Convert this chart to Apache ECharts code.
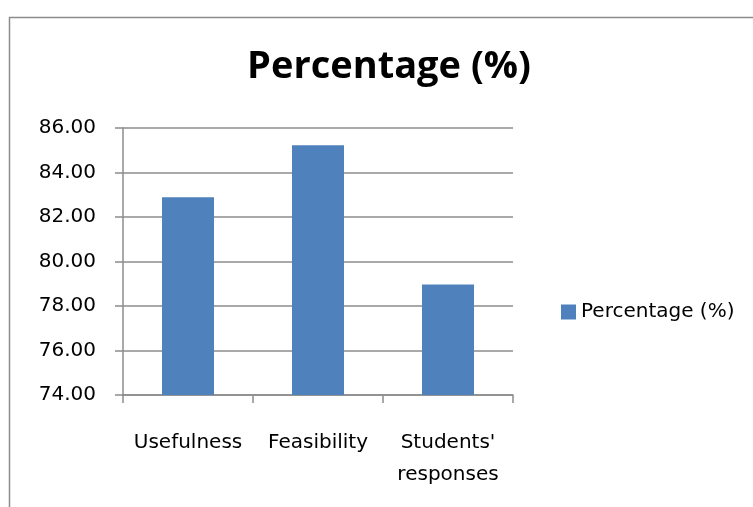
<!DOCTYPE html>
<html>
<head>
<meta charset="utf-8">
<script src="https://cdn.jsdelivr.net/npm/echarts@6/dist/echarts.min.js"></script>
<style>
  html, body { margin: 0; padding: 0; background: #fff; }
  #chart { width: 753px; height: 507px; }
</style>
</head>
<body>
<div id="chart"></div>
<script>
// chart data
var categories = ['Usefulness', 'Feasibility', "Students'\nresponses"];
var percentValues = [82.89, 85.22, 78.97];
var seriesName = 'Percentage (%)';

var chart = echarts.init(document.getElementById('chart'));

chart.setOption({
  animation: false,
  textStyle: { fontFamily: 'DejaVu Sans' },
  graphic: [
    {
      // outer chart frame
      type: 'rect',
      left: 7,
      top: 15,
      shape: { width: 800, height: 600 },
      style: { fill: 'none', stroke: '#8c8c8c', lineWidth: 1.5 }
    }
  ],
  title: {
    text: 'Percentage (%)',
    left: 384,
    textAlign: 'center',
    top: 43,
    textStyle: { fontFamily: 'Open Sans', fontWeight: 'bold', fontSize: 38, color: '#000' }
  },
  legend: {
    data: [{ name: seriesName, icon: 'rect' }],
    left: 556,
    top: 297,
    itemWidth: 15,
    itemHeight: 15,
    itemGap: 9,
    textStyle: { fontSize: 20, color: '#000', fontFamily: 'DejaVu Sans' }
  },
  grid: { left: 123, right: 240, top: 128, bottom: 112 },
  xAxis: {
    type: 'category',
    data: categories,
    axisLine: { lineStyle: { color: '#8c8c8c', width: 1.5 } },
    axisTick: { show: true, length: 8, lineStyle: { color: '#8c8c8c', width: 1.5 } },
    axisLabel: { color: '#000', fontSize: 20, margin: 32, lineHeight: 32, interval: 0 }
  },
  yAxis: {
    type: 'value',
    min: 74,
    max: 86,
    interval: 2,
    axisLine: { show: true, lineStyle: { color: '#8c8c8c', width: 1.5 } },
    axisTick: { show: true, length: 8, lineStyle: { color: '#8c8c8c', width: 1.5 } },
    splitLine: { lineStyle: { color: '#8c8c8c', width: 1.5 } },
    axisLabel: {
      color: '#000',
      fontSize: 20,
      margin: 27,
      padding: [4, 0, 0, 0],
      formatter: function (v) { return v.toFixed(2); }
    }
  },
  series: [
    {
      name: seriesName,
      type: 'bar',
      data: percentValues,
      barWidth: '40%',
      itemStyle: { color: '#4f81bd' }
    }
  ]
});
</script>
</body>
</html>
